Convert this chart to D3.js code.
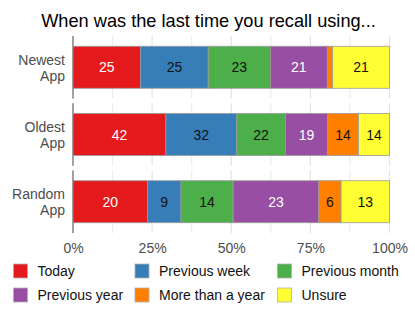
<!DOCTYPE html>
<html lang="en">
  <head>
    <meta charset="utf-8">
    <title>When was the last time you recall using...</title>
    <script src="https://cdn.jsdelivr.net/npm/d3@7"></script>
    <style>
      body { margin: 0; background: #fff; }
      svg { display: block; font-family: "Liberation Sans", Arial, Helvetica, sans-serif; }
    </style>
  </head>
  <body>
    <svg id="svg" width="415" height="312"></svg>

    <script type="text/javascript">

        // -- data (counts per answer)
        var apps = ["Newest App", "Oldest App", "Random App"];
        var answers = ["Today", "Previous week", "Previous month", "Previous year", "More than a year", "Unsure"];
        var today = [25, 42, 20];
        var previousWeek = [25, 32, 9];
        var previousMonth = [23, 22, 14];
        var previousYear = [21, 19, 23];
        var moreThanYear = [2, 14, 6];
        var unsure = [21, 14, 13];
        var colours = ["#e41a1c", "#377eb8", "#4daf4a", "#984ea3", "#ff7f00", "#ffff33"];
        var labelInk = ["#fff", "#111", "#111", "#fff", "#111", "#111"];
        var xTicks = [0, 0.25, 0.5, 0.75, 1];
        var xMinor = [0.125, 0.375, 0.625, 0.875];

        var series = [today, previousWeek, previousMonth, previousYear, moreThanYear, unsure];

        // - one row object per app, keyed by answer
        var rows = apps.map(function(a, i) {
            var r = { app: a };
            answers.forEach(function(k, j) { r[k] = series[j][i]; });
            return r;
        });

        var stacked = d3.stack()
            .keys(answers)
            .offset(d3.stackOffsetExpand)(rows);

        var svg = d3.select("svg#svg");

        var x = d3.scaleLinear().domain([0, 1]).range([73, 389.5]);
        var y = d3.scaleBand().domain(apps).range([36, 233]).paddingInner(0.07);
        var barH = 42;
        var fs = "14px";

        // - title
        svg.append("text")
            .attr("x", 208.5)
            .attr("y", 27.3)
            .attr("text-anchor", "middle")
            .style("font-size", "18.2px")
            .style("fill", "#000")
            .text("When was the last time you recall using...");

        // - panels (one per app): grid + left axis line
        var panel = svg.selectAll("g.panel")
            .data(apps)
            .join("g")
            .attr("class", "panel")
            .attr("transform", function(d) { return "translate(0," + y(d) + ")"; });

        panel.selectAll("line.grid")
            .data(xTicks.concat(xMinor))
            .join("line")
            .attr("class", "grid")
            .attr("x1", function(d) { return x(d); })
            .attr("x2", function(d) { return x(d); })
            .attr("y1", 0)
            .attr("y2", y.bandwidth())
            .style("stroke", function(d) { return xTicks.indexOf(d) >= 0 ? "#e3e3e3" : "#ececec"; })
            .style("stroke-width", 1.2);

        panel.append("line")
            .attr("x1", x(0))
            .attr("x2", x(0))
            .attr("y1", 0)
            .attr("y2", y.bandwidth())
            .style("stroke", "#808080")
            .style("stroke-width", 1.4);

        // - y labels, two lines each
        panel.append("text")
            .attr("text-anchor", "end")
            .attr("x", 65)
            .attr("y", y.bandwidth() / 2)
            .style("font-size", fs)
            .style("fill", "#4d4d4d")
            .selectAll("tspan")
            .data(function(d) { return d.split(" "); })
            .join("tspan")
            .attr("x", 65)
            .attr("dy", function(d, i) { return i === 0 ? "-0.18em" : "1.15em"; })
            .text(function(d) { return d; });

        // - stacked bars
        var layer = svg.selectAll("g.layer")
            .data(stacked)
            .join("g")
            .attr("class", "layer");

        layer.selectAll("rect")
            .data(function(s) { return s.map(function(p) { return { p: p, key: s.key, idx: s.index }; }); })
            .join("rect")
            .attr("x", function(d) { return x(d.p[0]); })
            .attr("width", function(d) { return x(d.p[1]) - x(d.p[0]); })
            .attr("y", function(d) { return y(d.p.data.app) + (y.bandwidth() - barH) / 2; })
            .attr("height", barH)
            .style("fill", function(d) { return colours[d.idx]; })
            .style("stroke", "#9a9a9a")
            .style("stroke-width", 0.8);

        layer.selectAll("text")
            .data(function(s) { return s.map(function(p) { return { p: p, key: s.key, idx: s.index }; }); })
            .join("text")
            .filter(function(d) { return d.p.data[d.key] >= 5; })
            .attr("x", function(d) { return (x(d.p[0]) + x(d.p[1])) / 2; })
            .attr("y", function(d) { return y(d.p.data.app) + y.bandwidth() / 2; })
            .attr("dy", "0.36em")
            .attr("text-anchor", "middle")
            .style("font-size", fs)
            .style("fill", function(d) { return labelInk[d.idx]; })
            .text(function(d) { return d.p.data[d.key]; });

        // - x axis labels
        svg.append("g")
            .attr("transform", "translate(0,233)")
            .call(d3.axisBottom(x).tickValues(xTicks).tickSize(0).tickPadding(9.8)
                .tickFormat(d3.format(".0%")))
            .call(function(g) { g.select(".domain").remove(); })
            .selectAll("text")
            .style("font-size", fs)
            .style("font-family", "\"Liberation Sans\", Arial, sans-serif")
            .style("fill", "#4d4d4d");

        // - legend, 3 columns x 2 rows
        var colX = [13.5, 135, 277.5];
        var rowY = [264, 288];
        var legend = svg.selectAll("g.legend")
            .data(answers)
            .join("g")
            .attr("class", "legend")
            .attr("transform", function(d, i) {
                return "translate(" + colX[i % 3] + "," + rowY[Math.floor(i / 3)] + ")";
            });

        legend.append("rect")
            .attr("width", 14)
            .attr("height", 14)
            .style("fill", function(d, i) { return colours[i]; })
            .style("stroke", "#b0b0b0")
            .style("stroke-width", 0.8);

        legend.append("text")
            .attr("x", 24)
            .attr("y", 12.3)
            .style("font-size", fs)
            .style("fill", "#111")
            .text(function(d) { return d; });

    </script>
  </body>
</html>
